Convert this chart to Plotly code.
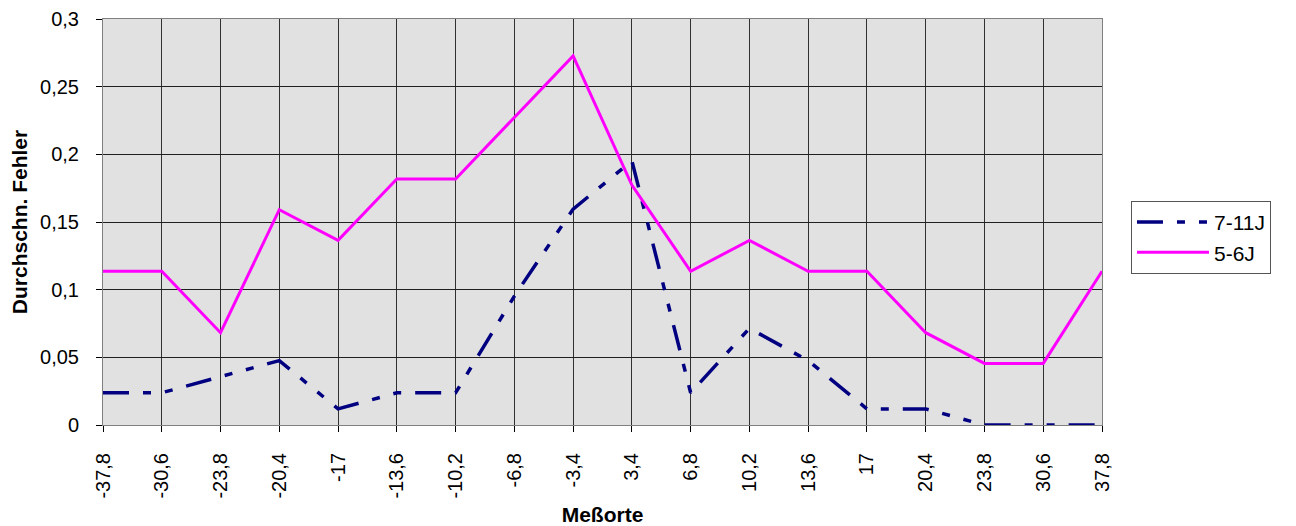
import plotly.graph_objects as go

# Meßorte (categories) and average errors per age group
messorte = ['-37,8', '-30,6', '-23,8', '-20,4', '-17', '-13,6', '-10,2', '-6,8', '-3,4',
            '3,4', '6,8', '10,2', '13,6', '17', '20,4', '23,8', '30,6', '37,8']
fehler_7_11 = [0.0238, 0.0238, 0.0357, 0.0476, 0.0119, 0.0238, 0.0238, 0.0952, 0.1595,
               0.1952, 0.0238, 0.0714, 0.0476, 0.0119, 0.0119, 0.0, 0.0, 0.0]
fehler_5_6 = [0.1136, 0.1136, 0.0682, 0.1591, 0.1364, 0.1818, 0.1818, 0.2273, 0.2727,
              0.1773, 0.1136, 0.1364, 0.1136, 0.1136, 0.0682, 0.0455, 0.0455, 0.1136]
y_ticks = [0, 0.05, 0.1, 0.15, 0.2, 0.25, 0.3]

fig = go.Figure()

fig.add_trace(go.Scatter(x=messorte, y=fehler_7_11, mode='lines', name='7-11J',
                         line=dict(color='#000080', width=3.5, dash='26px,14px,8px,14px,8px,14px')))
fig.add_trace(go.Scatter(x=messorte, y=fehler_5_6, mode='lines', name='5-6J',
                         line=dict(color='#ff00ff', width=3)))

# the page body adds 8px, so the figure is 8px smaller and margins shifted
fig.update_layout(
    width=1288, height=518,
    margin=dict(l=95, r=194, t=11, b=101),
    paper_bgcolor='white',
    plot_bgcolor='#e1e1e1',
    separators=',.',
    font=dict(family='Arial, Liberation Sans', size=20, color='black'),
    showlegend=True,
    legend=dict(x=1.029, y=0.552, xanchor='left', yanchor='top',
                bordercolor='#555555', borderwidth=1, bgcolor='white',
                itemwidth=72, font=dict(size=21), tracegroupgap=0),
    xaxis=dict(
        type='category', range=[0, 17], tickangle=-90, automargin=False,
        showgrid=True, gridcolor='#303030', gridwidth=1,
        ticks='outside', ticklen=6, tickcolor='black', ticklabelstandoff=13,
        showline=True, linecolor='#808080', linewidth=1, mirror=True,
        title=dict(text='<b>Meßorte</b>', font=dict(size=21), standoff=14),
        tickfont=dict(size=20), ticklabeloverflow='allow',
    ),
    yaxis=dict(
        range=[0, 0.3], tickvals=y_ticks, tickformat='.2~f', automargin=False,
        showgrid=True, gridcolor='#202020', gridwidth=1,
        ticks='outside', ticklen=6, tickcolor='black', ticklabelstandoff=13,
        showline=True, linecolor='#808080', linewidth=1, mirror=True,
        zeroline=False, ticklabeloverflow='allow',
        title=dict(text='<b>Durchschn. Fehler</b>', font=dict(size=21), standoff=12),
        tickfont=dict(size=20),
    ),
)

fig.write_html("out.html")
